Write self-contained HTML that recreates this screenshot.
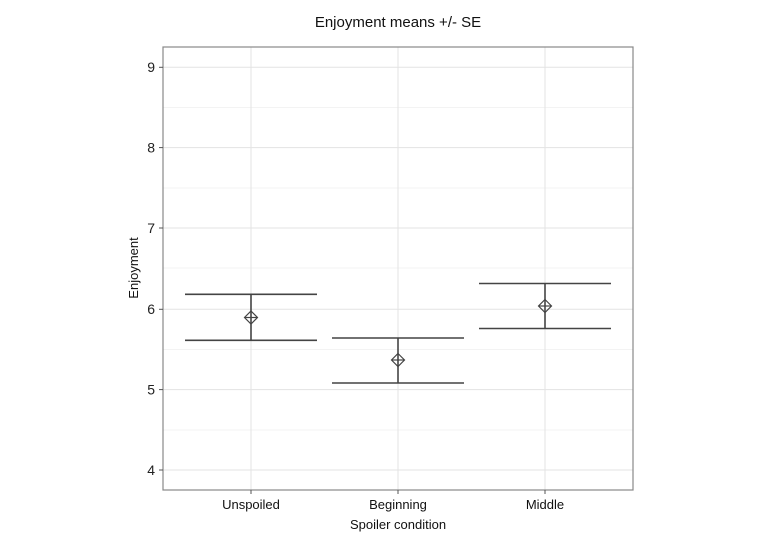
<!DOCTYPE html>
<html><head><style>body{margin:0;background:#fff}svg{display:block}</style></head><body>
<svg width="770" height="541" xmlns="http://www.w3.org/2000/svg" font-family="Liberation Sans, sans-serif">
<rect width="770" height="541" fill="#fff"/>
<g stroke="#f3f3f3" stroke-width="1">
<line x1="163" x2="633" y1="107.5" y2="107.5"/><line x1="163" x2="633" y1="188" y2="188"/><line x1="163" x2="633" y1="268" y2="268"/><line x1="163" x2="633" y1="349.5" y2="349.5"/><line x1="163" x2="633" y1="430" y2="430"/>
</g>
<g stroke="#e3e3e3" stroke-width="1">
<line x1="163" x2="633" y1="67.3" y2="67.3"/><line x1="163" x2="633" y1="147.6" y2="147.6"/><line x1="163" x2="633" y1="228" y2="228"/><line x1="163" x2="633" y1="309.3" y2="309.3"/><line x1="163" x2="633" y1="389.6" y2="389.6"/><line x1="163" x2="633" y1="470" y2="470"/>
<line x1="251" x2="251" y1="47" y2="490"/><line x1="398" x2="398" y1="47" y2="490"/><line x1="545" x2="545" y1="47" y2="490"/>
</g>
<rect x="163" y="47" width="470" height="443" fill="none" stroke="#888" stroke-width="1.2"/>
<g stroke="#444" stroke-width="1.6" fill="none">
<line x1="185" x2="317" y1="294.3" y2="294.3"/><line x1="185" x2="317" y1="340.3" y2="340.3"/><line x1="251" x2="251" y1="294.3" y2="340.3"/>
<line x1="332" x2="464" y1="338" y2="338"/><line x1="332" x2="464" y1="383" y2="383"/><line x1="398" x2="398" y1="338" y2="383"/>
<line x1="479" x2="611" y1="283.5" y2="283.5"/><line x1="479" x2="611" y1="328.5" y2="328.5"/><line x1="545" x2="545" y1="283.5" y2="328.5"/>
</g>
<g stroke="#444" stroke-width="1.2" fill="none">
<path d="M251 311 L257.5 317.5 L251 324 L244.5 317.5 Z"/><line x1="244.5" x2="257.5" y1="317.5" y2="317.5"/>
<path d="M398 353.5 L404.5 360 L398 366.5 L391.5 360 Z"/><line x1="391.5" x2="404.5" y1="360" y2="360"/>
<path d="M545 299.5 L551.5 306 L545 312.5 L538.5 306 Z"/><line x1="538.5" x2="551.5" y1="306" y2="306"/>
</g>
<g stroke="#555" stroke-width="1">
<line x1="159" x2="163" y1="67.3" y2="67.3"/><line x1="159" x2="163" y1="147.6" y2="147.6"/><line x1="159" x2="163" y1="228" y2="228"/><line x1="159" x2="163" y1="309.3" y2="309.3"/><line x1="159" x2="163" y1="389.6" y2="389.6"/><line x1="159" x2="163" y1="470" y2="470"/>
<line x1="251" x2="251" y1="490" y2="494"/><line x1="398" x2="398" y1="490" y2="494"/><line x1="545" x2="545" y1="490" y2="494"/>
</g>
<g font-size="14" fill="#222" text-anchor="end">
<text x="155" y="72">9</text><text x="155" y="152.5">8</text><text x="155" y="233">7</text><text x="155" y="314">6</text><text x="155" y="394.5">5</text><text x="155" y="475">4</text>
</g>
<g font-size="13" fill="#111" text-anchor="middle">
<text x="251" y="509">Unspoiled</text><text x="398" y="509">Beginning</text><text x="545" y="509">Middle</text>
<text x="398" y="529">Spoiler condition</text>
<text x="398" y="27" font-size="15">Enjoyment means +/- SE</text>
<text transform="translate(138,268) rotate(-90)">Enjoyment</text>
</g>
</svg>
</body></html>
